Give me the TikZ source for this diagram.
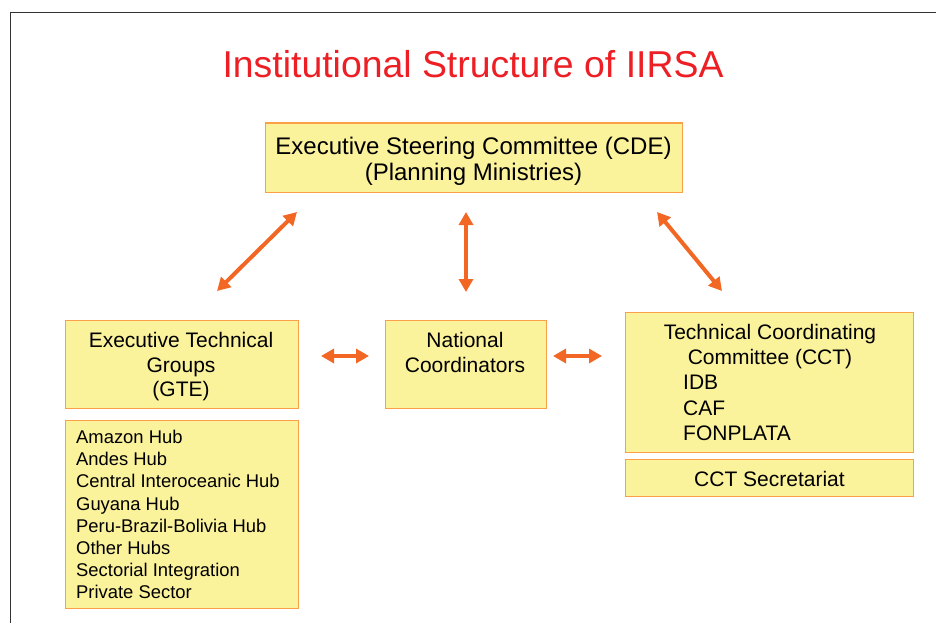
\documentclass[tikz,border=0pt]{standalone}
\usepackage{fontspec}
\setmainfont{Liberation Sans}
\usetikzlibrary{arrows.meta}
\definecolor{boxfill}{RGB}{251,242,156}
\definecolor{boxline}{RGB}{249,160,72}
\definecolor{arrowc}{RGB}{242,103,36}
\definecolor{titlec}{RGB}{237,30,36}
\begin{document}
\begin{tikzpicture}[x=1pt,y=-1pt,
  box/.style={draw=boxline,fill=boxfill,line width=1pt,inner sep=0pt,outer sep=0pt},
  bigtxt/.style={inner sep=0pt,align=center,font=\fontsize{24}{26}\selectfont},
  midtxt/.style={inner sep=0pt,align=center,font=\fontsize{21}{24.5}\selectfont},
  listtxt/.style={inner sep=0pt,align=left,anchor=west,font=\fontsize{21}{25.3}\selectfont},
  hubtxt/.style={inner sep=0pt,align=left,anchor=west,font=\fontsize{18.4}{22.15}\selectfont},
  link/.style={draw=arrowc,line width=4pt,{Triangle[length=13pt,width=14pt]}-{Triangle[length=13pt,width=14pt]}},
  frameline/.style={draw=black!80,line width=1pt}
]
\useasboundingbox (0,0) rectangle (936,623);
% frame
\coordinate (fbl) at (10,623);
\coordinate (ftl) at (10,13);
\coordinate (ftr) at (936,13);
\draw[frameline] (fbl) -- (ftl) -- (ftr);
% title
\node[inner sep=0pt,text=titlec,font=\fontsize{37.4}{44}\selectfont] (title) at (473,64.5) {Institutional Structure of IIRSA};
% boxes
\node[box,minimum width=417pt,minimum height=69pt] (cde) at (473.5,157.5) {};
\node[bigtxt] (cdet) at (473.5,161) {Executive Steering Committee (CDE)\\(Planning Ministries)};
\node[box,minimum width=233pt,minimum height=88pt] (gte) at (181.5,364) {};
\node[midtxt] (gtet) at (181,366.6) {Executive Technical\\Groups\\(GTE)};
\node[box,minimum width=233pt,minimum height=188pt] (hubs) at (181.5,514) {};
\node[hubtxt] (hubst) at (76,514.5) {Amazon Hub\\Andes Hub\\Central Interoceanic Hub\\Guyana Hub\\Peru-Brazil-Bolivia Hub\\Other Hubs\\Sectorial Integration\\Private Sector};
\node[box,minimum width=161pt,minimum height=88pt] (nat) at (465.5,364) {};
\node[midtxt] (natt) at (465,352.5) {National\\Coordinators};
\node[box,minimum width=288pt,minimum height=140pt] (cct) at (769,382) {};
\node[midtxt,font=\fontsize{21}{25}\selectfont] (cctt) at (770,346.5) {Technical Coordinating\\Committee (CCT)};
\node[listtxt,font=\fontsize{21}{25.3}\selectfont] (cctl) at (683,408) {IDB\\CAF\\FONPLATA};
\node[box,minimum width=288pt,minimum height=37pt] (sec) at (769,477.5) {};
\node[midtxt] (sect) at (769.5,478.5) {CCT Secretariat};
% arrow end points
\coordinate (a1) at (217,291);
\coordinate (b1) at (297,212);
\coordinate (a2) at (466,292);
\coordinate (b2) at (466,212);
\coordinate (a3) at (722,291);
\coordinate (b3) at (657,212);
\coordinate (a4) at (321,356);
\coordinate (b4) at (369,356);
\coordinate (a5) at (553,356);
\coordinate (b5) at (602,356);
\draw[link] (a1) -- (b1);
\draw[link] (a2) -- (b2);
\draw[link] (a3) -- (b3);
\draw[link] (a4) -- (b4);
\draw[link] (a5) -- (b5);
\end{tikzpicture}
\end{document}
